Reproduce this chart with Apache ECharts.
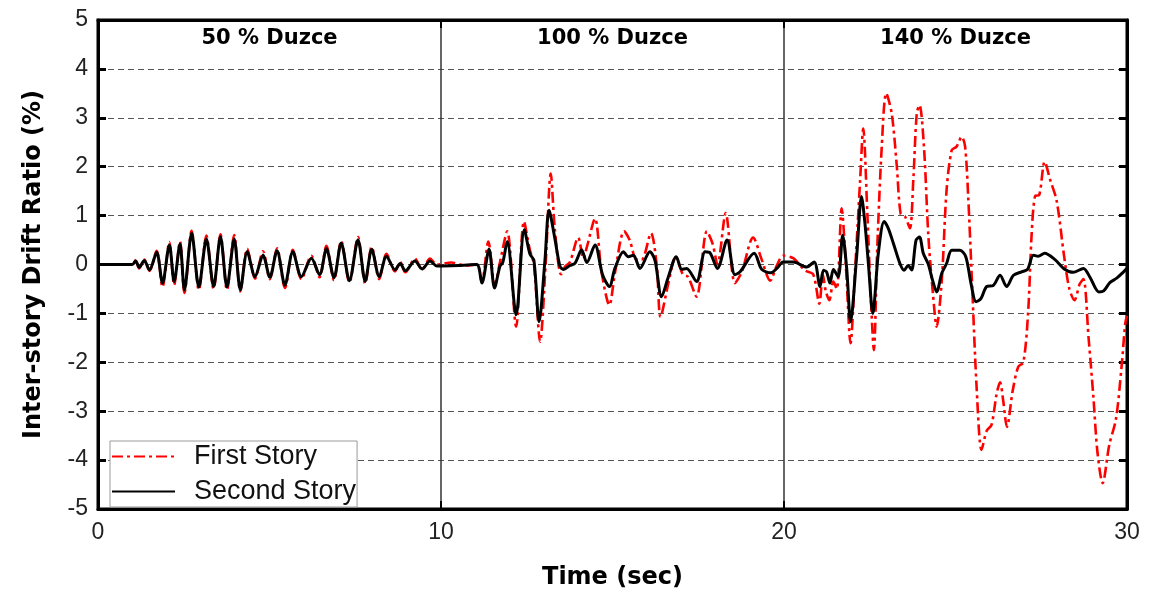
<!DOCTYPE html>
<html>
<head>
<meta charset="utf-8">
<script src="https://cdn.jsdelivr.net/npm/echarts@6/dist/echarts.min.js"></script>
<style>
  html, body { margin: 0; padding: 0; background: #fff; }
  #chart { width: 1154px; height: 597px; }
</style>
</head>
<body>
<div id="chart"></div>
<script>
// Inter-story drift histories of the two stories under three Duzce levels
const firstStoryTime = [
  0, 1.0, 1.1, 1.2, 1.35, 1.5, 1.71, 1.88, 2.08, 2.22, 2.39, 2.52, 2.73, 2.94, 3.16, 3.37, 3.57, 3.76, 3.97, 4.15,
  4.35, 4.58, 4.81, 5.01, 5.22, 5.45, 5.68, 5.93, 6.22, 6.46, 6.66, 6.88, 7.09, 7.33, 7.58, 7.79, 7.98, 8.20, 8.41, 8.66,
  8.81, 8.96, 9.24, 9.45, 9.68, 9.88, 10.3, 10.7, 11.04,
  11.19, 11.38, 11.57, 11.72, 11.93, 12.19, 12.42, 12.59, 12.71, 12.89, 13.05, 13.20, 13.32, 13.50, 13.61, 13.76, 14.00, 14.15, 14.25, 14.49,
  14.68, 14.91, 15.07, 15.34, 15.50, 15.70, 15.85, 16.12, 16.29, 16.40, 16.63, 16.84, 17.05, 17.20, 17.45, 17.75, 17.92, 18.06, 18.30, 18.57,
  18.77, 19.10, 19.35, 19.60, 19.79, 19.98,
  20.27, 20.61, 20.85, 21.03, 21.13, 21.22, 21.32, 21.44, 21.54, 21.68, 21.81, 21.94, 22.07, 22.22, 22.31, 22.43, 22.53, 22.62, 22.72, 22.85,
  22.98, 23.14, 23.29, 23.40, 23.53, 23.67, 23.77, 23.87, 23.95, 24.08, 24.21, 24.35, 24.45, 24.60, 24.74, 24.89, 25.03, 25.18, 25.28, 25.37,
  25.47, 25.62, 25.76, 25.91, 26.05, 26.20, 26.30, 26.39, 26.50, 26.67, 26.83, 26.98, 27.12, 27.22, 27.32, 27.44, 27.60, 27.76, 27.95, 28.17,
  28.32, 28.47, 28.62, 28.73, 28.88, 29.02, 29.14, 29.29, 29.48, 29.68, 29.84, 29.95, 30.0
];
const firstStoryDrift = [
  0, 0, 0.09, -0.08, 0.10, -0.13, 0.28, -0.46, 0.46, -0.42, 0.47, -0.58, 0.69, -0.52, 0.59, -0.50, 0.62, -0.52, 0.60, -0.55,
  0.32, -0.29, 0.27, -0.30, 0.33, -0.48, 0.30, -0.30, 0.18, -0.26, 0.38, -0.32, 0.48, -0.37, 0.56, -0.39, 0.36, -0.30, 0.22, -0.14,
  0.05, -0.16, 0.12, -0.11, 0.12, 0.0, 0.04, -0.02, 0.0,
  -0.36, 0.47, -0.43, 0.05, 0.68, -1.27, 0.88, 0.30, 0.0, -1.58, 0.0, 1.86, 0.71, -0.20, -0.05, 0.05, 0.55, 0.12, 0.35, 0.94,
  -0.15, -0.83, -0.18, 0.68, 0.50, 0.10, 0.10, 0.64, -0.02, -1.07, -0.38, 0.16, -0.20, -0.25, -0.66, 0.68, 0.42, 0.0, 1.05, -0.38,
  -0.15, 0.55, 0.10, -0.33, -0.02, 0.18,
  0.13, -0.12, -0.20, -0.80, -0.20, -0.55, -0.73, -0.35, -0.50, 1.15, -0.10, -1.61, -0.15, 1.73, 2.78, 1.04, -0.66, -1.75, 0.36, 2.41,
  3.50, 3.09, 2.00, 1.04, 0.98, 0.74, 1.73, 3.09, 3.26, 2.41, 0.57, -0.66, -1.27, -0.32, 1.52, 2.34, 2.41, 2.61, 2.41, 1.39,
  -0.18, -2.57, -3.79, -3.40, -3.28, -2.64, -2.41, -2.78, -3.32, -2.57, -2.09, -2.00, -0.95, 0.62, 1.40, 1.42, 2.10, 1.73, 1.30, 0.15,
  -0.50, -0.73, -0.40, -0.30, -1.50, -2.71, -3.85, -4.47, -3.70, -3.15, -2.10, -1.20, -1.05
];

const secondStoryTime = [
  0, 1.0, 1.1, 1.2, 1.35, 1.5, 1.71, 1.88, 2.08, 2.22, 2.39, 2.52, 2.73, 2.94, 3.16, 3.37, 3.57, 3.76, 3.97, 4.15,
  4.35, 4.58, 4.81, 5.01, 5.22, 5.45, 5.68, 5.93, 6.22, 6.46, 6.66, 6.88, 7.09, 7.33, 7.58, 7.79, 7.98, 8.20, 8.41, 8.66,
  8.81, 8.96, 9.24, 9.45, 9.68, 9.88, 10.5, 11.04,
  11.19, 11.40, 11.56, 11.72, 11.80, 11.93, 12.19, 12.43, 12.59, 12.71, 12.86, 13.03, 13.15, 13.31, 13.47, 13.57, 13.76, 13.91, 14.10, 14.25,
  14.49, 14.71, 14.91, 15.07, 15.32, 15.46, 15.61, 15.80, 16.09, 16.24, 16.43, 16.63, 16.86, 17.02, 17.16, 17.45, 17.70, 17.84, 18.06, 18.34,
  18.57, 18.72, 19.13, 19.35, 19.62, 19.79, 19.98,
  20.27, 20.66, 20.88, 21.05, 21.15, 21.24, 21.34, 21.44, 21.58, 21.71, 21.83, 21.94, 22.12, 22.26, 22.36, 22.46, 22.59, 22.75, 22.92, 23.04,
  23.19, 23.38, 23.50, 23.62, 23.72, 23.85, 23.95, 24.06, 24.21, 24.33, 24.45, 24.60, 24.74, 24.89, 25.13, 25.30, 25.45, 25.60, 25.74, 25.91,
  26.10, 26.30, 26.49, 26.69, 26.93, 27.10, 27.27, 27.41, 27.60, 27.90, 28.17, 28.43, 28.73, 28.92, 29.18, 29.32, 29.50, 29.70, 29.90, 30.0
];
const secondStoryDrift = [
  0, 0, 0.07, -0.06, 0.08, -0.11, 0.25, -0.38, 0.40, -0.35, 0.42, -0.52, 0.64, -0.46, 0.52, -0.45, 0.57, -0.46, 0.52, -0.52,
  0.26, -0.25, 0.19, -0.26, 0.28, -0.42, 0.26, -0.25, 0.13, -0.21, 0.32, -0.27, 0.44, -0.33, 0.50, -0.34, 0.31, -0.25, 0.17, -0.11,
  0.02, -0.13, 0.07, -0.09, 0.07, -0.03, -0.02, 0.0,
  -0.38, 0.31, -0.48, -0.03, 0.04, 0.47, -1.03, 0.71, 0.22, 0.08, -1.17, 0.08, 1.11, 0.57, -0.04, -0.10, -0.02, 0.03, 0.30, 0.04,
  0.40, -0.21, -0.45, -0.08, 0.26, 0.16, 0.19, -0.08, 0.26, 0.08, -0.66, -0.25, 0.16, -0.10, -0.08, -0.35, 0.26, 0.24, -0.08, 0.50,
  -0.21, -0.15, 0.23, -0.10, -0.17, -0.08, 0.05,
  0.05, -0.05, 0.05, -0.45, -0.12, -0.15, -0.38, -0.10, -0.25, 0.60, -0.10, -1.17, 0.18, 1.39, 0.84, 0.02, -1.00, 0.23, 0.88, 0.74,
  0.43, 0.02, -0.12, -0.02, -0.11, 0.50, 0.56, 0.23, 0.0, -0.32, -0.56, -0.18, 0.02, 0.29, 0.29, 0.16, -0.38, -0.76, -0.70, -0.45,
  -0.43, -0.22, -0.45, -0.22, -0.15, -0.10, 0.19, 0.17, 0.23, 0.10, -0.09, -0.16, -0.08, -0.26, -0.56, -0.54, -0.37, -0.28, -0.15, -0.08
];

// Loading stages shown across the record
const stageNames = ['50 % Duzce', '100 % Duzce', '140 % Duzce'];
const stageBounds = [0, 10, 20, 30];

const xTicks = [0, 10, 20, 30];
const yTicks = [-5, -4, -3, -2, -1, 0, 1, 2, 3, 4, 5];

const zip = (xs, ys) => xs.map((x, i) => [x, ys[i]]);

const labelFont = 'Liberation Sans, Arial, sans-serif';
const titleFont = 'DejaVu Sans, Verdana, sans-serif';

const chart = echarts.init(document.getElementById('chart'), null, { renderer: 'canvas' });

const baseX = {
  type: 'value',
  min: xTicks[0],
  max: xTicks[xTicks.length - 1],
  interval: xTicks[1] - xTicks[0]
};
const baseY = {
  type: 'value',
  min: yTicks[0],
  max: yTicks[yTicks.length - 1],
  interval: 1
};

chart.setOption({
  animation: false,
  backgroundColor: '#ffffff',
  grid: {
    left: 98, right: 27, top: 20, bottom: 88,
    show: true, borderColor: '#000', borderWidth: 3, backgroundColor: 'transparent'
  },
  legend: {
    left: 110, top: 441,
    orient: 'vertical',
    backgroundColor: '#ffffff',
    borderColor: '#9a9a9a', borderWidth: 1,
    padding: [2, 1, 2, 1],
    itemGap: 8,
    itemWidth: 63, itemHeight: 30,
    selectedMode: false,
    itemStyle: { color: 'rgba(0,0,0,0)', borderWidth: 0 },
    textStyle: { fontFamily: labelFont, fontSize: 27, color: '#111', padding: [0, 0, 0, 14] },
    data: ['First Story', 'Second Story']
  },
  xAxis: [
    Object.assign({}, baseX, {
      position: 'bottom',
      name: 'Time (sec)', nameLocation: 'middle', nameGap: 57,
      nameTextStyle: { fontFamily: titleFont, fontWeight: 'bold', fontSize: 24, color: '#000' },
      axisLine: { show: true, onZero: false, lineStyle: { color: '#000', width: 3 } },
      axisTick: { show: true, inside: true, length: 8, lineStyle: { color: '#000', width: 2 } },
      axisLabel: { fontFamily: labelFont, fontSize: 23, color: '#222', margin: 12 },
      splitLine: { show: true, lineStyle: { color: '#333', width: 1.5, type: 'solid' } }
    }),
    Object.assign({}, baseX, {
      position: 'top',
      axisLine: { show: true, onZero: false, lineStyle: { color: '#000', width: 3 } },
      axisTick: { show: true, inside: true, length: 8, lineStyle: { color: '#000', width: 2 } },
      axisLabel: { show: false },
      splitLine: { show: false }
    })
  ],
  yAxis: [
    Object.assign({}, baseY, {
      position: 'left',
      name: 'Inter-story Drift Ratio (%)', nameLocation: 'middle', nameRotate: 90, nameGap: 52,
      nameTextStyle: { fontFamily: titleFont, fontWeight: 'bold', fontSize: 24, color: '#000' },
      axisLine: { show: true, onZero: false, lineStyle: { color: '#000', width: 3 } },
      axisTick: { show: true, inside: true, length: 8, lineStyle: { color: '#000', width: 3 } },
      axisLabel: { fontFamily: labelFont, fontSize: 23, color: '#222', margin: 10 },
      splitLine: { show: true, lineStyle: { color: '#555', width: 1, type: [6, 4] } }
    }),
    Object.assign({}, baseY, {
      position: 'right',
      axisLine: { show: true, onZero: false, lineStyle: { color: '#000', width: 3 } },
      axisTick: { show: true, inside: true, length: 8, lineStyle: { color: '#000', width: 3 } },
      axisLabel: { show: false },
      splitLine: { show: false }
    })
  ],
  series: [
    {
      name: 'First Story',
      type: 'line',
      xAxisIndex: 0, yAxisIndex: 0,
      data: zip(firstStoryTime, firstStoryDrift),
      symbol: 'none',
      smooth: 0.3,
      lineStyle: { color: '#ff0000', width: 2.6, type: [11, 4, 3, 4], cap: 'butt' },
      itemStyle: { color: '#ff0000' },
      z: 2,
      markArea: {
        silent: true,
        itemStyle: { color: 'rgba(0,0,0,0)' },
        label: {
          show: true, position: 'insideTop', distance: 8,
          fontFamily: titleFont, fontWeight: 'bold', fontSize: 21, color: '#000'
        },
        data: stageNames.map((n, i) => [{ name: n, xAxis: stageBounds[i] }, { xAxis: stageBounds[i + 1] }])
      }
    },
    {
      name: 'Second Story',
      type: 'line',
      xAxisIndex: 0, yAxisIndex: 0,
      data: zip(secondStoryTime, secondStoryDrift),
      symbol: 'none',
      smooth: 0.3,
      lineStyle: { color: '#000000', width: 3 },
      itemStyle: { color: '#000000' },
      z: 3
    }
  ]
});
</script>
</body>
</html>
